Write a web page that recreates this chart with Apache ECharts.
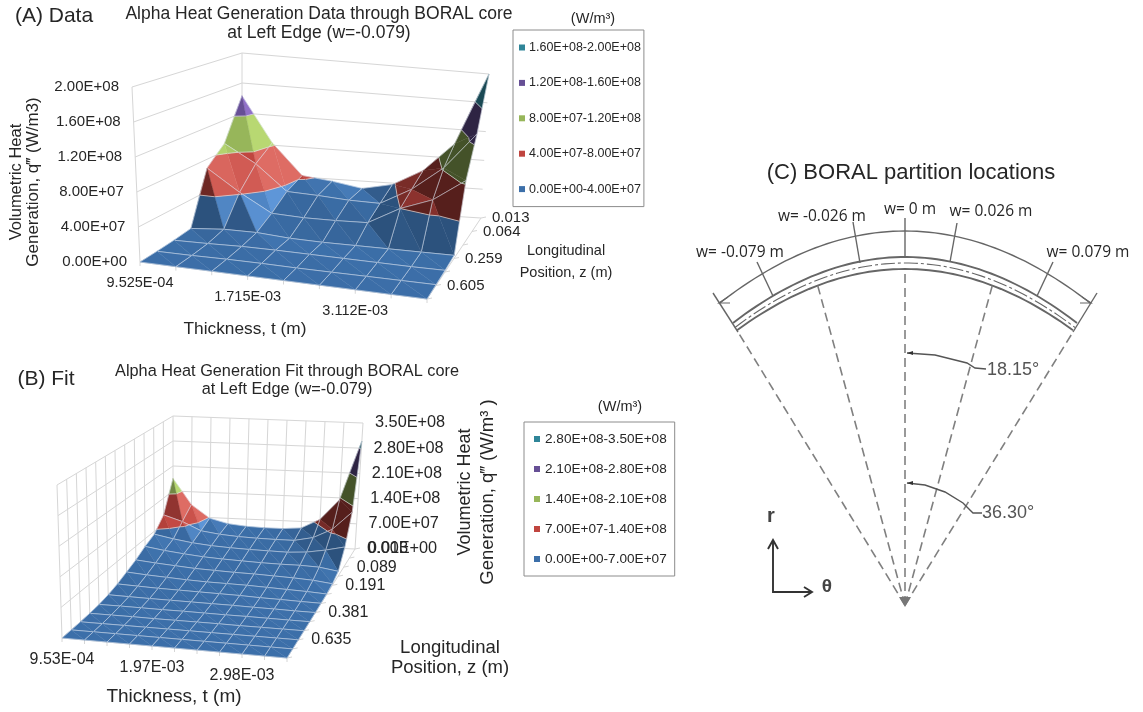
<!DOCTYPE html>
<html><head><meta charset="utf-8">
<style>html,body{margin:0;padding:0;background:#fff}#c{width:1143px;height:712px}</style>
<script src="https://cdn.jsdelivr.net/npm/echarts@6/dist/echarts.min.js"></script>
</head><body><div id="c"></div>
<script>
// ---------- data (values in units of 1E+07 W/m3, row = longitudinal position, back to front) ----------
const unit = 1e7;
const dataValues = [
 [14.3, 8.3, 4.2, 3.7, 3.0, 3.8, 6.0, 10.0, 20.0],
 [ 9.0, 6.7, 3.4, 3.2, 2.9, 2.8, 5.0,  8.2, 13.1],
 [ 6.9, 4.2, 1.9, 1.7, 1.7, 1.8, 4.0,  5.5,  8.4],
 [ 0.5, 0.8, 0.8, 0.5, 0.4, 0.4, 0.4,  0.4,  0.4],
 [ 0.25,0.3, 0.4, 0.4, 0.35,0.3, 0.25, 0.2,  0.2],
 [ 0.1, 0.1, 0.15,0.15,0.1, 0.1, 0.1,  0.1,  0.1],
 [ 0.0, 0.0, 0.0, 0.0, 0.0, 0.0, 0.0,  0.0,  0.0]
];
const fitValues = [
 [17.5,10.4,6.8,5.5,5.0,4.8,4.8,5.2,7.8,13.5,30.0],
 [ 9.4, 7.8,5.5,4.8,4.4,4.2,4.1,4.1,5.1, 7.6,12.5],
 [ 6.2, 5.2,4.4,3.9,3.6,3.4,3.3,3.2,3.5, 4.3, 5.4],
 [ 5.0, 4.2,3.6,3.1,2.8,2.6,2.4,2.3,2.3, 2.1, 1.3],
 [ 3.5, 3.0,2.6,2.2,2.0,1.8,1.7,1.5,1.3, 1.0, 0.4],
 [ 2.4, 2.0,1.7,1.4,1.2,1.1,1.0,0.8,0.6, 0.4, 0.1],
 [ 1.4, 1.2,1.0,0.9,0.8,0.7,0.6,0.4,0.3, 0.15,0.05],
 [ 0.7, 0.6,0.5,0.45,0.4,0.35,0.3,0.2,0.15,0.05,0.0],
 [ 0.3, 0.3,0.25,0.2,0.2,0.15,0.1,0.1,0.05,0.0,0.0],
 [ 0.1, 0.1,0.1,0.05,0.05,0.05,0.05,0.0,0.0,0.0,0.0],
 [ 0.0, 0.0,0.0,0.0,0.0,0.0,0.0,0.0,0.0,0.0,0.0],
 [ 0.0, 0.0,0.0,0.0,0.0,0.0,0.0,0.0,0.0,0.0,0.0],
 [ 0.0, 0.0,0.0,0.0,0.0,0.0,0.0,0.0,0.0,0.0,0.0]
];
const bandColors = ['#3c6fa9', '#c0453f', '#97b65a', '#664f95', '#2f8598'];
const bandLights = ['#5e96d8', '#de6c64', '#b8d872', '#9070c8', '#4aa8b8'];
const dataBands = ['0.00E+00-4.00E+07','4.00E+07-8.00E+07','8.00E+07-1.20E+08','1.20E+08-1.60E+08','1.60E+08-2.00E+08'];
const fitBands  = ['0.00E+00-7.00E+07','7.00E+07-1.40E+08','1.40E+08-2.10E+08','2.10E+08-2.80E+08','2.80E+08-3.50E+08'];
const dataValueTicks = ['0.00E+00','4.00E+07','8.00E+07','1.20E+08','1.60E+08','2.00E+08'];
const fitValueTicks  = ['0.00E+00','7.00E+07','1.40E+08','2.10E+08','2.80E+08','3.50E+08'];
const dataThickTicks = [[0,'9.525E-04'],[3,'1.715E-03'],[6,'3.112E-03']];
const fitThickTicks  = [[0,'9.53E-04'],[4,'1.97E-03'],[8,'2.98E-03']];
const dataZTicks = [[0,'0.013'],[1,'0.064'],[3,'0.259'],[5,'0.605']];
const fitZTicks  = [[0,'0.013'],[2,'0.089'],[4,'0.191'],[7,'0.381'],[10,'0.635']];

// ---------- layout ----------
const SANS = '"Liberation Sans", Arial, sans-serif';
const minB = [.74,.45,.45,.45,.55];
const panels = [
 { key:'A', values:dataValues, bands:dataBands, ticks:dataValueTicks, thick:dataThickTicks, zt:dataZTicks,
   vmax:2e8, step:4e7, grid:{left:140,top:86,width:287,height:176}, wall:'left',
   FL:[140,262,-8,-175], FR:[427,299,5,-172], BL:[242,203,0,-150], BR:[481,218,8,-144],
   font:15, thickFont:14.5, thickDy:21, valDx:-13, valDy:0, valAlign:'right', zDx:11, zDy:0, zFont:15, ku:.14, kw:.06,
   legend:{left:513,top:30} },
 { key:'B', values:fitValues, bands:fitBands, ticks:fitValueTicks, thick:fitThickTicks, zt:fitZTicks,
   vmax:3.5e8, step:7e7, grid:{left:62,top:485,width:225,height:153}, wall:'grid',
   FL:[62,638,-5,-153], FR:[287,658,6,-155], BL:[173,541,0,-125], BR:[355,549,8,-126],
   font:16.3, thickFont:16, thickDy:22, valDx:12, valDy:0, valAlign:'left', zDx:13, zDy:0, zFont:16, ku:.10, kw:.05,
   legend:{left:524,top:422} }
];

function project(p, api, i, j, v) {
  const nx = p.values[0].length - 1, nz = p.values.length - 1;
  const x0 = api.coord([0,0])[0], x1 = api.coord([nx,0])[0];
  const y0 = api.coord([0,0])[1], y1 = api.coord([0,p.vmax])[1];
  const u = (api.coord([i,0])[0]-x0)/(x1-x0), w = j/nz, f = (y0-api.coord([0,v])[1])/(y0-y1);
  const mix = k => (1-w)*((1-u)*p.BL[k]+u*p.BR[k]) + w*((1-u)*p.FL[k]+u*p.FR[k]);
  return [mix(0)+f*mix(2), mix(1)+f*mix(3)];
}
const rgb = h => [1,3,5].map(k => parseInt(h.substr(k,2),16));
function shade(n, raw) {
  const c = rgb(bandColors[n]), l = rgb(bandLights[n]);
  const b = Math.max(minB[n], raw);
  const t = Math.min(1,(b-1)/.3);
  const r = b <= 1 ? c.map(x => x*b) : c.map((x,k) => x+(l[k]-x)*t);
  return 'rgb('+r.map(Math.round).join(',')+')';
}
function clip(poly, lim, keepAbove) {
  const out = [];
  for (let k=0;k<poly.length;k++) {
    const a = poly[k], b = poly[(k+1)%poly.length];
    const ina = keepAbove ? a[2]>=lim : a[2]<=lim, inb = keepAbove ? b[2]>=lim : b[2]<=lim;
    if (ina) out.push(a);
    if (ina !== inb) { const t=(lim-a[2])/(b[2]-a[2]); out.push([a[0]+t*(b[0]-a[0]),a[1]+t*(b[1]-a[1]),lim]); }
  }
  return out;
}
function triangles(p) {
  const nx = p.values[0].length-1, nz = p.values.length-1, list=[];
  for (let j=0;j<nz;j++) {
    const idx=[]; for (let i=0;i<nx;i++) idx.push(i);
    idx.sort((a,b)=>Math.abs(b-(nx-1)/2)-Math.abs(a-(nx-1)/2));
    idx.forEach(i=>{ list.push([i,j,0]); list.push([i,j,1]); });
  }
  return list;
}
const surfaceItem = p => (params, api) => {
  const i=api.value(0), j=api.value(1), kind=api.value(2), V=p.values;
  const P=(a,b)=>[a,b,V[b][a]*unit];
  const tri = kind===0 ? [P(i,j),P(i+1,j),P(i+1,j+1)] : [P(i,j),P(i,j+1),P(i+1,j+1)];
  const du = kind===0 ? V[j][i+1]-V[j][i] : V[j+1][i+1]-V[j+1][i];
  const dw = kind===0 ? V[j+1][i+1]-V[j][i+1] : V[j+1][i]-V[j][i];
  const raw = 1 - p.ku*du + p.kw*dw;
  const children=[];
  const pr = q => project(p,api,q[0],q[1],q[2]);
  bandColors.forEach((col,n)=>{
    const lo=n*p.step, hi=(n+1)*p.step;
    let poly=clip(tri,lo,true); if(poly.length) poly=clip(poly,hi,false);
    if (poly.length<3) return;
    const fill=shade(n,raw);
    children.push({type:'polygon',shape:{points:poly.map(pr)},style:{fill,stroke:fill,lineWidth:.4}});
    for (let k=0;k<poly.length;k++){
      const a=poly[k],c=poly[(k+1)%poly.length];
      if (n>0 && a[2]===lo && c[2]===lo)
        children.push({type:'polyline',shape:{points:[pr(a),pr(c)]},style:{fill:null,stroke:'rgba(225,225,225,.75)',lineWidth:.9}});
    }
  });
  [[tri[0],tri[1]],[tri[1],tri[2]]].forEach(s=>children.push({type:'polyline',shape:{points:[pr(s[0]),pr(s[1])]},style:{fill:null,stroke:'rgba(222,230,242,.66)',lineWidth:.8}}));
  return {type:'group',children};
};
const wallItem = p => (params, api) => {
  const nx=p.values[0].length-1,nz=p.values.length-1,c=[];
  const line=(a,b,col)=>c.push({type:'polyline',shape:{points:[a,b]},style:{fill:null,stroke:col||'#d6d6d6',lineWidth:1}});
  const pt=(i,j,v)=>project(p,api,i,j,v);
  for(let n=0;n<=5;n++){ const v=n*p.step;
    line(pt(0,nz,v),pt(0,0,v)); line(pt(0,0,v),pt(nx,0,v)); }
  line(pt(0,nz,0),pt(0,nz,p.vmax)); line(pt(0,0,0),pt(0,0,p.vmax));
  line(pt(nx,0,0),pt(nx,nz,0)); line(pt(0,nz,0),pt(nx,nz,0));
  if(p.wall==='grid'){
    for(let j=1;j<nz;j++) line(pt(0,j,0),pt(0,j,p.vmax));
    for(let i=1;i<=nx;i++) line(pt(i,0,0),pt(i,0,p.vmax));
  }
  for(let i=0;i<=nx;i++){const q=pt(i,nz,0);line(q,[q[0],q[1]+4]);}
  for(let j=0;j<=nz;j++){const q=pt(nx,j,0);line(q,[q[0]+5,q[1]-1]);}
  return {type:'group',children:c,silent:true};
};
const tickItem = p => (params, api) => {
  const nx=p.values[0].length-1,nz=p.values.length-1,c=[];
  const T=(text,x,y,align,size)=>c.push({type:'text',style:{text,x,y,align,verticalAlign:'middle',fontFamily:SANS,fontSize:size,fill:'#262626'}});
  p.ticks.forEach((t,n)=>{const q=project(p,api,p.key==='A'?0:nx,p.key==='A'?nz:0,n*p.step);T(t,q[0]+p.valDx,q[1]+p.valDy,p.valAlign,p.font);});
  p.thick.forEach(t=>{const q=project(p,api,t[0],nz,0);T(t[1],q[0],q[1]+p.thickDy,'center',p.thickFont);});
  p.zt.forEach(t=>{const q=project(p,api,nx,t[0],0);T(t[1],q[0]+p.zDx,q[1]+p.zDy,'left',p.zFont);});
  return {type:'group',children:c,silent:true};
};

// ---------- series, grids, legends ----------
const series=[], grids=[], xAxes=[], yAxes=[], legends=[];
panels.forEach((p,n)=>{
  grids.push(Object.assign({show:false},p.grid));
  xAxes.push({gridIndex:n,type:'value',min:0,max:p.values[0].length-1,show:false});
  yAxes.push({gridIndex:n,type:'value',min:0,max:p.vmax,interval:p.step,show:false});
  const base={type:'custom',coordinateSystem:'cartesian2d',xAxisIndex:n,yAxisIndex:n,clip:false,silent:true,animation:false};
  series.push(Object.assign({},base,{name:'walls '+p.key,renderItem:wallItem(p),data:[[0,0]],z:1}));
  series.push(Object.assign({},base,{name:'surface '+p.key,renderItem:surfaceItem(p),data:triangles(p),z:2}));
  series.push(Object.assign({},base,{name:'ticks '+p.key,renderItem:tickItem(p),data:[[0,0]],z:3}));
  p.bands.forEach((b,k)=>series.push(Object.assign({},base,{name:b,renderItem:()=>null,data:[],itemStyle:{color:bandColors[k]}})));
  legends.push({orient:'vertical',left:p.legend.left,top:p.legend.top,selectedMode:false,icon:'rect',itemWidth:6,itemHeight:6,
    itemGap:n===0?22.4:16,padding:n===0?[11,3,11,6]:[10,8,10,10],borderColor:'#8c8c8c',borderWidth:1,
    textStyle:{fontFamily:SANS,fontSize:n===0?12.5:13.6,color:'#262626',padding:n===0?[0,0,0,-1]:[0,0,0,0]},
    data:p.bands.slice().reverse()});
});

// ---------- schematic (C) ----------
const GC='#666666';
const arc=(top,c,half)=>{const pts=[];for(let dx=-half;dx<=half;dx+=6)pts.push([905+dx,top+c*dx*dx]);pts.push([905+half,top+c*half*half]);return pts;};
const pl=(points,lw,dash,col)=>({type:'polyline',shape:{points},style:{fill:'none',stroke:col||GC,lineWidth:lw||1,lineDash:dash||null}});
const tx=(text,x,y,size,font,align,col,weight)=>({type:'text',style:{text,x,y,fontSize:size,fontFamily:font||SANS,fontWeight:weight||'normal',align:align||'center',verticalAlign:'middle',fill:col||'#262626'}});
const OS='"Open Sans", sans-serif';
const D=[9,5];
const schematic=[
 pl(arc(231,.0021,186),1.4),
 pl(arc(257,.00223,172),1.9), pl(arc(263,.00223,170),1.1,[14,3,3,3]), pl(arc(269,.00217,168),1.9),
 pl([[905,605],[905,270]],1.6,D,'#808080'), pl([[905,257],[905,218]],1.4),
 pl([[905,605],[993,283]],1.6,D,'#808080'), pl([[905,605],[817,283]],1.6,D,'#808080'),
 pl([[905,605],[1073,332]],1.6,D,'#808080'), pl([[905,605],[738,332]],1.6,D,'#808080'),
 pl([[713,293],[738,332]],1.4), pl([[1097,293],[1073,332]],1.4),
 pl([[853,222],[860,263]],1.4), pl([[957,223],[950,262]],1.4),
 pl([[757,262],[773,296]],1.4), pl([[1053,262],[1037,296]],1.4),
 pl([[728,297],[719,303],[730,303]],1.2), pl([[1082,297],[1091,303],[1080,303]],1.2),
 pl([[907,353],[935,355],[967,363],[975,368],[986,369]],1.4,null,'#555'),
 pl([[907,483],[925,485],[945,492],[963,503],[973,513],[982,513]],1.4,null,'#555'),
 {type:'polygon',shape:{points:[[907,353],[913,351],[913,355]]},style:{fill:'#333'}},
 {type:'polygon',shape:{points:[[907,483],[913,481],[913,485]]},style:{fill:'#333'}},
 {type:'polygon',shape:{points:[[899,597],[911,597],[905,607]]},style:{fill:'#777'}},
 pl([[773,541],[773,592],[811,592]],1.9,null,'#333'),
 pl([[768,549],[773,540],[778,549]],1.9,null,'#333'), pl([[804,587],[812,592],[804,597]],1.9,null,'#333'),
 tx('r',771,516,20,SANS,'center','#444','bold'), tx('θ',827,587,19,SANS,'center','#444','bold'),
 tx('18.15°',1013,370,18,SANS,'center','#555'), tx('36.30°',1008,513,18,SANS,'center','#555'),
 tx('w= -0.079 m',740,253,15.5,OS), tx('w= -0.026 m',822,217,15.5,OS), tx('w= 0 m',910,210,15.5,OS),
 tx('w= 0.026 m',991,212,15.5,OS), tx('w= 0.079 m',1088,253,15.5,OS)
];
const rot=(text,x,y,size)=>({type:'text',x,y,rotation:Math.PI/2,style:{text,x:0,y:0,fontSize:size,fontFamily:SANS,align:'center',verticalAlign:'middle',fill:'#262626'}});
const labels=[
 tx('(A) Data',54,16,21), tx('(B) Fit',46,379,21),
 tx('(W/m³)',593,19,14.5), tx('(W/m³)',620,407,14.5),
 tx('Thickness, t (m)',245,329,17.3), tx('Thickness, t (m)',174,697,19),
 tx('Longitudinal',566,251,14.5), tx('Position, z (m)',566,273,14.5),
 tx('Longitudinal',450,648,18.5), tx('Position, z (m)',450,668,18.5),
 rot('Volumetric Heat',16,182,16.5), rot('Generation, q\u2034 (W/m3)',33,182,17),
 rot('Volumetric Heat',465,492,18), rot('Generation, q\u2034 (W/m³ )',488,492,18.5)
];

const chart=echarts.init(document.getElementById('c'),null,{renderer:'canvas'});
chart.setOption({
 animation:false, backgroundColor:'#fff',
 title:[
  {text:'Alpha Heat Generation Data through BORAL core\nat Left Edge (w=-0.079)',left:314,top:0,textAlign:'center',textStyle:{fontFamily:SANS,fontSize:17.5,fontWeight:'normal',color:'#262626',lineHeight:19}},
  {text:'Alpha Heat Generation Fit through BORAL core\nat Left Edge (w=-0.079)',left:282,top:358,textAlign:'center',textStyle:{fontFamily:SANS,fontSize:16.3,fontWeight:'normal',color:'#262626',lineHeight:18}},
  {text:'(C) BORAL partition locations',left:906,top:157,textAlign:'center',textStyle:{fontFamily:SANS,fontSize:22,fontWeight:'normal',color:'#262626'}}
 ],
 grid:grids, xAxis:xAxes, yAxis:yAxes, legend:legends, series,
 graphic:{elements:schematic.concat(labels).map(e=>Object.assign({silent:true},e))}
});
</script></body></html>
